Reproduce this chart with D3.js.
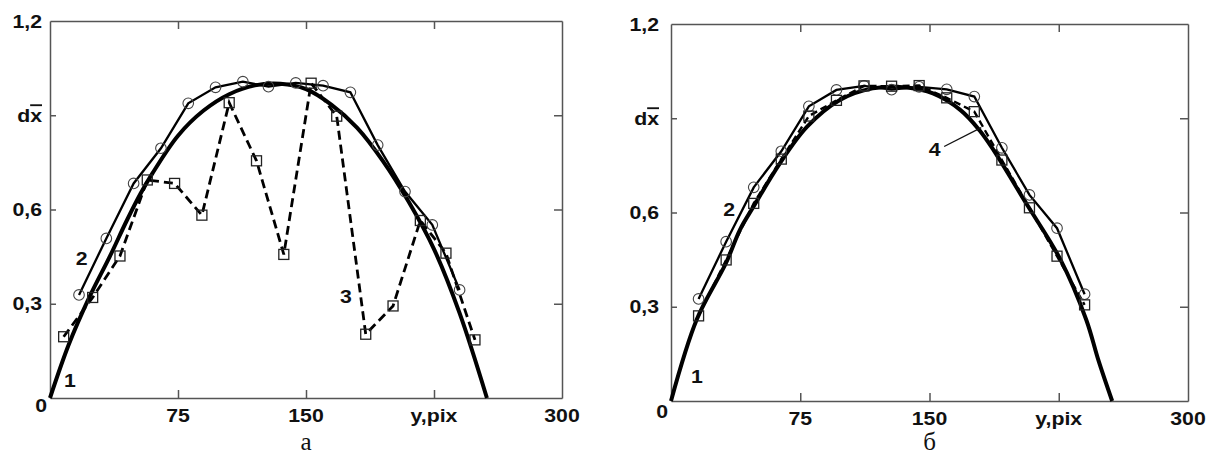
<!DOCTYPE html>
<html lang="uk">
<head>
    <meta charset="UTF-8">
    <title>dx(y) profiles</title>
    <script src="https://d3js.org/d3.v7.min.js"></script>
    <style>
        body { margin: 0; background: #fff; }
        .axis path, .axis line { stroke: #555; stroke-width: 1.5px; }
        .lbl { font-family: "Liberation Sans", Arial, sans-serif; font-weight: bold; font-size: 18.5px; fill: #111; }
        .cap { font-family: "Liberation Serif", "Times New Roman", serif; font-size: 25px; fill: #111; }
    </style>
</head>
<body>
    <div id="chart"></div>

    <script>
        // axis ticks
        const xTicks = [0, 75, 150, 225, 300];
        const xTickLabels = ["0", "75", "150", "y,pix", "300"];
        const yTicks = [0, 0.3, 0.6, 0.9, 1.2];
        const yTickLabels = ["0", "0,3", "0,6", "dx", "1,2"];

        // panel a: curve 1 (thick), series 2 (circles), series 3 (squares, dashed)
        const c1aX = [0, 11, 23, 35, 45, 53, 60, 75, 90, 105, 120, 135, 150, 165, 180, 195, 210, 225, 240, 256];
        const c1aY = [0, 0.17, 0.32, 0.45, 0.565, 0.65, 0.715, 0.835, 0.915, 0.967, 0.995, 1.0, 0.983, 0.933, 0.86, 0.755, 0.626, 0.474, 0.27, 0];
        const s2aX = [17, 33, 49, 65, 81, 97, 113, 128, 144, 160, 176, 192, 208, 224, 240];
        const s2aY = [0.328, 0.508, 0.683, 0.795, 0.938, 0.989, 1.007, 0.991, 1.003, 0.994, 0.973, 0.805, 0.657, 0.551, 0.344];
        const s3aX = [8, 25, 41, 57, 73, 89, 105, 121, 137, 153, 168, 185, 201, 217, 232, 249];
        const s3aY = [0.195, 0.32, 0.452, 0.694, 0.683, 0.582, 0.94, 0.755, 0.457, 1.002, 0.897, 0.203, 0.293, 0.565, 0.461, 0.185];

        // panel b: curve 1 (thick), series 2 (circles), series 4 (squares, dashed)
        const c1bX = [0, 15, 32, 40, 48, 63, 79, 98, 117, 137, 152, 168, 179, 187, 206, 226, 241, 248, 256];
        const c1bY = [0, 0.26, 0.44, 0.545, 0.62, 0.755, 0.873, 0.958, 0.995, 0.998, 0.979, 0.926, 0.862, 0.8, 0.63, 0.45, 0.258, 0.13, 0];
        const s2bX = [16, 32, 48, 64, 80, 96, 112, 128, 144, 160, 176, 192, 208, 224, 240];
        const s2bY = [0.325, 0.507, 0.68, 0.795, 0.938, 0.99, 1.003, 0.991, 1.0, 0.992, 0.969, 0.806, 0.656, 0.55, 0.34];
        const s4bX = [16, 32, 48, 64, 80, 96, 112, 128, 144, 160, 176, 192, 208, 224, 240];
        const s4bY = [0.271, 0.449, 0.629, 0.77, 0.907, 0.957, 1.003, 1.002, 1.004, 0.965, 0.921, 0.767, 0.615, 0.461, 0.306];

        // curve number labels [x, y, text]
        const notesA = [[11.7, 0.057, "1"], [18.5, 0.444, "2"], [173.4, 0.323, "3"]];
        const notesB = [[15.1, 0.08, "1"], [33.7, 0.611, "2"], [153, 0.8, "4"]];
        const leaderB = [[158.5, 0.81], [180, 0.87]];

        const zip = (xs, ys) => xs.map((x, i) => ({ x, y: ys[i] }));

        const svg = d3.select("#chart").append("svg")
            .attr("width", 1219)
            .attr("height", 458);

        const drawPanel = (p) => {
            const x = d3.scaleLinear().domain([0, 300]).range([p.left, p.right]);
            const y = d3.scaleLinear().domain([0, 1.2]).range([p.bottom, p.top]);
            const g = svg.append("g");

            // frame + inward ticks
            g.append("g").attr("class", "axis").attr("transform", `translate(0,${p.bottom})`)
                .call(d3.axisBottom(x).tickValues([75, 150, 225]).tickSize(-8).tickSizeOuter(0).tickFormat(""));
            g.append("g").attr("class", "axis").attr("transform", `translate(0,${p.top})`)
                .call(d3.axisTop(x).tickValues([75, 150, 225]).tickSize(-8).tickSizeOuter(0).tickFormat(""));
            g.append("g").attr("class", "axis").attr("transform", `translate(${p.left},0)`)
                .call(d3.axisLeft(y).tickValues([0.3, 0.6, 0.9]).tickSize(-6).tickSizeOuter(0).tickFormat(""));
            g.append("g").attr("class", "axis").attr("transform", `translate(${p.right},0)`)
                .call(d3.axisRight(y).tickValues([0.3, 0.6, 0.9]).tickSize(-8).tickSizeOuter(0).tickFormat(""));

            // y labels
            yTicks.forEach((v, i) => {
                if (v === 0) return;
                const t = g.append("text").attr("class", "lbl")
                    .attr("transform", `translate(${p.left - p.gap},${y(v)}) scale(1.15,1)`)
                    .attr("text-anchor", "end")
                    .attr("dy", "0.36em");
                if (i === 3) {
                    t.append("tspan").text("d");
                    t.append("tspan").text("x").style("text-decoration", "overline");
                } else {
                    t.text(yTickLabels[i]);
                }
            });
            // corner zero
            g.append("text").attr("class", "lbl")
                .attr("transform", `translate(${p.left - 3},${y(0) + p.zeroDy}) scale(1.15,1)`)
                .attr("text-anchor", "end")
                .attr("dy", "0.36em")
                .text("0");
            // x labels
            xTicks.forEach((v, i) => {
                if (v === 0) return;
                g.append("text").attr("class", "lbl")
                    .attr("transform", `translate(${x(v)},${p.bottom + 17}) scale(1.15,1)`)
                    .attr("text-anchor", "middle")
                    .attr("dy", "0.36em")
                    .text(xTickLabels[i]);
            });

            // thick curve 1
            g.append("path").datum(p.c1)
                .attr("fill", "none").attr("stroke", "#000").attr("stroke-width", 4)
                .attr("d", d3.line().curve(d3.curveCatmullRom).x(d => x(d.x)).y(d => y(d.y)));

            const lin = d3.line().x(d => x(d.x)).y(d => y(d.y));
            // series 2, circles
            g.append("path").datum(p.s2)
                .attr("fill", "none").attr("stroke", "#000").attr("stroke-width", 2.3)
                .attr("d", lin);
            // dashed squares series
            g.append("path").datum(p.sq)
                .attr("fill", "none").attr("stroke", "#000").attr("stroke-width", p.dashW)
                .attr("stroke-dasharray", p.dash)
                .attr("d", lin);

            g.selectAll(".c").data(p.s2).enter().append("circle")
                .attr("cx", d => x(d.x)).attr("cy", d => y(d.y)).attr("r", 5.3)
                .attr("fill", "none").attr("stroke", "#444").attr("stroke-width", 1.1);
            g.selectAll(".s").data(p.sq).enter().append("rect")
                .attr("x", d => x(d.x) - 5).attr("y", d => y(d.y) - 5)
                .attr("width", 10).attr("height", 10)
                .attr("fill", "none").attr("stroke", "#222").attr("stroke-width", 1.3);

            // curve numbers
            p.notes.forEach(n => {
                g.append("text").attr("class", "lbl")
                    .attr("transform", `translate(${x(n[0])},${y(n[1])}) scale(1.15,1)`)
                    .attr("text-anchor", "middle")
                    .attr("dy", "0.36em")
                    .text(n[2]);
            });
            if (p.leader) {
                g.append("line")
                    .attr("x1", x(p.leader[0][0])).attr("y1", y(p.leader[0][1]))
                    .attr("x2", x(p.leader[1][0])).attr("y2", y(p.leader[1][1]))
                    .attr("stroke", "#111").attr("stroke-width", 1.3);
            }

            // caption
            g.append("text").attr("class", "cap")
                .attr("x", (p.left + p.right) / 2)
                .attr("y", 450)
                .attr("text-anchor", "middle")
                .text(p.caption);
        };

        drawPanel({
            left: 50, right: 562, top: 21, bottom: 398, gap: 8, zeroDy: 7,
            c1: zip(c1aX, c1aY), s2: zip(s2aX, s2aY), sq: zip(s3aX, s3aY),
            dash: "9,5", dashW: 2.8, notes: notesA, leader: null, caption: "а"
        });
        drawPanel({
            left: 671, right: 1188, top: 24, bottom: 401, gap: 12, zeroDy: 10,
            c1: zip(c1bX, c1bY), s2: zip(s2bX, s2bY), sq: zip(s4bX, s4bY),
            dash: "7,4", dashW: 2.4, notes: notesB, leader: leaderB, caption: "б"
        });
    </script>
</body>
</html>
